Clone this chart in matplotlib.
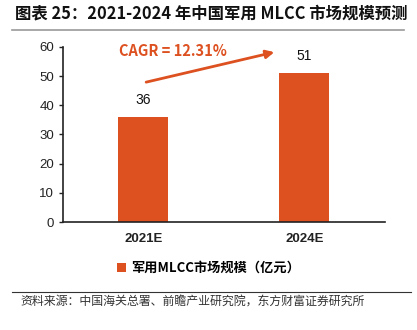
import matplotlib
matplotlib.use("Agg")
import matplotlib.pyplot as plt

plt.rcParams['font.family'] = ['Liberation Sans', 'Noto Sans CJK SC', 'DejaVu Sans']

# data
years  = ["2021E", "2024E"]
values = [36, 51]
series_name = "军用MLCC市场规模（亿元）"
cagr_text = "CAGR = 12.31%"

BAR_COLOR = "#DD5020"
CJK = ['Noto Sans CJK SC', 'DejaVu Sans']

fig = plt.figure(figsize=(4.17, 3.30), dpi=100)
ax = fig.add_axes([0.151, 0.327, 0.772, 0.531])

x = range(len(years))
bars = ax.bar(x, values, width=0.31, color=BAR_COLOR, label=series_name, zorder=2)
for xi, v in zip(x, values):
    ax.annotate(f"{v}", (xi, v), xytext=(0, 7), textcoords="offset points",
                ha="center", va="bottom", fontsize=10, color="#111111")

ax.set_xlim(-0.5, 1.5)
ax.set_ylim(0, 60)
ax.set_yticks(range(0, 61, 10))
ax.set_xticks(list(x))
ax.set_xticklabels(years, fontsize=9.5, fontweight="bold", color="#222222")
ax.tick_params(axis="y", labelsize=9.5, length=3, width=1, color="#222222", labelcolor="#222222")
ax.tick_params(axis="x", length=0, pad=8)
for s in ["top", "right"]:
    ax.spines[s].set_visible(False)
for s in ["left", "bottom"]:
    ax.spines[s].set_linewidth(1.2)
    ax.spines[s].set_color("#222222")

# growth arrow
ax.annotate("", xy=(0.83, 58.4), xytext=(0.0, 47.7),
            arrowprops=dict(arrowstyle="-|>", color=BAR_COLOR, lw=2, mutation_scale=12))
ax.text(-0.15, 58.6, cagr_text, color=BAR_COLOR, fontsize=10.5, fontweight="bold",
        family=CJK, ha="left", va="center")

# legend
fig.legend(handles=[bars], labels=[series_name], loc="center", bbox_to_anchor=(0.5, 0.188),
           frameon=False, handlelength=0.7, handleheight=0.7, handletextpad=0.4,
           prop=dict(family=CJK, size=9.5, weight="bold"))

# title and source
fig.text(0.035, 0.958, "图表 25：2021-2024 年中国军用 MLCC 市场规模预测", fontsize=11.8,
         fontweight="bold", family=CJK, ha="left", va="center", color="#111111")
fig.add_artist(plt.Line2D([0.028, 0.97], [0.909, 0.909], color="#999999", lw=1.2))
fig.add_artist(plt.Line2D([0.028, 0.985], [0.115, 0.115], color="#333333", lw=0.8))
fig.text(0.05, 0.083, "资料来源：中国海关总署、前瞻产业研究院，东方财富证券研究所", fontsize=8.6,
         family=CJK, ha="left", va="center", color="#333333")

fig.savefig("out.png", dpi=100)
